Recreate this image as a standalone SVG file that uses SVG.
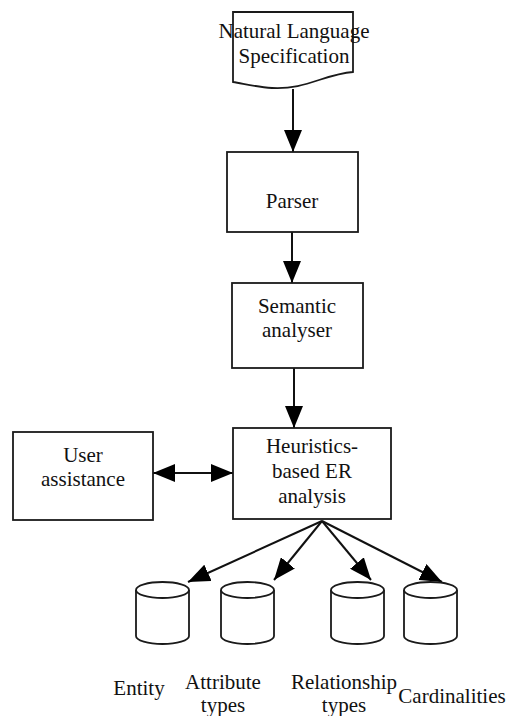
<svg xmlns="http://www.w3.org/2000/svg" width="507" height="716" viewBox="0 0 507 716">
  <style>
    .box { fill: #fff; stroke: #1a1a1a; stroke-width: 1.8; }
    .cyl { fill: #fff; stroke: #1a1a1a; stroke-width: 1.8; }
    .lbl { font-family: "Liberation Serif", "Times New Roman", serif; font-size: 21px; fill: #111; text-anchor: middle; }
    .edge { stroke: #111; stroke-width: 2; fill: none; marker-end: url(#head); }
  </style>
  <defs>
    <marker id="head" markerUnits="userSpaceOnUse" markerWidth="22" markerHeight="18" refX="22" refY="9" orient="auto-start-reverse">
      <path d="M0,0 L22,9 L0,18 Z" fill="#000"/>
    </marker>
  </defs>
  <rect width="507" height="716" fill="#fff"/>

  <g id="connectors">
    <line class="edge" x1="293" y1="89" x2="293" y2="152"/>
    <line class="edge" x1="292" y1="232" x2="292" y2="283"/>
    <line class="edge" x1="294" y1="368" x2="294" y2="428"/>
    <line class="edge" x1="153" y1="473" x2="233" y2="473" marker-start="url(#head)"/>
    <line class="edge" x1="322" y1="521" x2="188" y2="582"/>
    <line class="edge" x1="322" y1="521" x2="274" y2="580"/>
    <line class="edge" x1="322" y1="521" x2="371" y2="580"/>
    <line class="edge" x1="322" y1="521" x2="442" y2="582"/>
  </g>

  <g id="nl-spec">
    <path class="box" d="M233,12 L353,12 L353,72 C325,74 305,90 272,88 C257,87 245,84 233,82 Z"/>
    <text class="lbl" x="294" y="38">Natural Language</text>
    <text class="lbl" x="294" y="63">Specification</text>
  </g>

  <g id="parser">
    <rect class="box" x="227" y="152" width="131" height="80"/>
    <text class="lbl" x="292" y="208">Parser</text>
  </g>

  <g id="semantic">
    <rect class="box" x="232" y="283" width="131" height="85"/>
    <text class="lbl" x="297" y="313">Semantic</text>
    <text class="lbl" x="297" y="337">analyser</text>
  </g>

  <g id="heuristics">
    <rect class="box" x="233" y="428" width="158" height="91"/>
    <text class="lbl" x="312" y="453">Heuristics-</text>
    <text class="lbl" x="312" y="478">based ER</text>
    <text class="lbl" x="312" y="503">analysis</text>
  </g>

  <g id="user-assist">
    <rect class="box" x="13" y="432" width="140" height="88"/>
    <text class="lbl" x="83" y="462">User</text>
    <text class="lbl" x="83" y="486">assistance</text>
  </g>

  <g id="store-entity">
    <path class="cyl" d="M136,590 L136,636 A26.5,8 0 0 0 189,636 L189,590"/>
    <ellipse class="cyl" cx="162.5" cy="590" rx="26.5" ry="8"/>
    <text class="lbl" x="139" y="695">Entity</text>
  </g>

  <g id="store-attribute">
    <path class="cyl" d="M221,590 L221,636 A26.5,8 0 0 0 274,636 L274,590"/>
    <ellipse class="cyl" cx="247.5" cy="590" rx="26.5" ry="8"/>
    <text class="lbl" x="223" y="689">Attribute</text>
    <text class="lbl" x="223" y="712">types</text>
  </g>

  <g id="store-relationship">
    <path class="cyl" d="M331,590 L331,636 A26.5,8 0 0 0 384,636 L384,590"/>
    <ellipse class="cyl" cx="357.5" cy="590" rx="26.5" ry="8"/>
    <text class="lbl" x="344" y="689">Relationship</text>
    <text class="lbl" x="344" y="712">types</text>
  </g>

  <g id="store-cardinality">
    <path class="cyl" d="M404,590 L404,636 A26.5,8 0 0 0 457,636 L457,590"/>
    <ellipse class="cyl" cx="430.5" cy="590" rx="26.5" ry="8"/>
    <text class="lbl" x="452" y="703">Cardinalities</text>
  </g>
</svg>
